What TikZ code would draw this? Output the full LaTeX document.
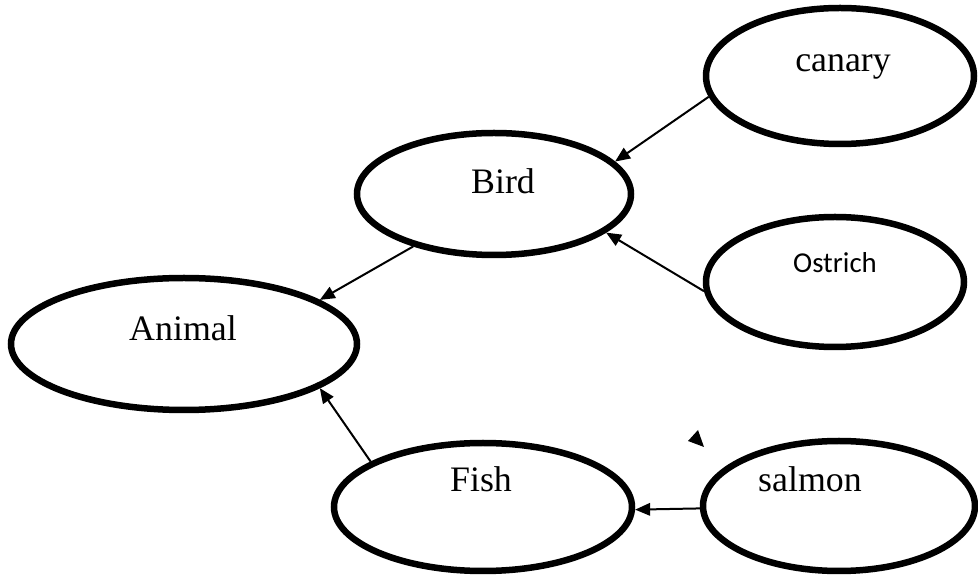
\documentclass[tikz,border=0pt]{standalone}
\usepackage{fontspec}
\setmainfont{Liberation Serif}
\newfontfamily\calibri{Carlito}
\usepackage{tikz}
\usetikzlibrary{arrows.meta,shapes.geometric}

\begin{document}
\begin{tikzpicture}[x=0.02cm,y=-0.02cm,
  concept/.style={ellipse,draw,line width=0.13cm,inner sep=0pt},
  word/.style={anchor=base,inner sep=0pt,font=\fontsize{20.4}{24}\selectfont},
  isa/.style={-{Triangle[length=0.3cm,width=0.25cm]},line width=0.04cm}]
  \useasboundingbox (0,0) rectangle (978,577);
  % ellipses
  \node[concept,minimum width=346*0.02cm,minimum height=132*0.02cm] (animal) at (184,344) {};
  \node[concept,minimum width=274*0.02cm,minimum height=122*0.02cm] (bird) at (494,194) {};
  \node[concept,minimum width=268*0.02cm,minimum height=136*0.02cm] (canary) at (840,76) {};
  \node[concept,minimum width=258*0.02cm,minimum height=130*0.02cm] (ostrich) at (835,282) {};
  \node[concept,minimum width=298*0.02cm,minimum height=128*0.02cm] (fish) at (483,507) {};
  \node[concept,minimum width=272*0.02cm,minimum height=130*0.02cm] (salmon) at (839,506) {};
  % texts
  \node[word] (animaltxt) at (183,341) {Animal};
  \node[word] (birdtxt) at (503,194) {Bird};
  \node[word] (canarytxt) at (843,72) {canary};
  \node[word,font=\calibri\fontsize{16.4}{20}\selectfont] (ostrichtxt) at (835,273) {Ostrich};
  \node[word] (fishtxt) at (481,492) {Fish};
  \node[word] (salmontxt) at (810,492) {salmon};
  % links
  \draw[isa] (canary.189) -- (bird.15);
  \draw[isa] (ostrich.184) -- (bird.341);
  \draw[isa] (bird.213) -- (animal.18);
  \draw[isa] (fish.158) -- (animal.342);
  \draw[isa] (salmon.181) -- (fish.359);
  \fill (688,441) -- (698,430) -- (704,447) -- cycle;
\end{tikzpicture}
\end{document}
